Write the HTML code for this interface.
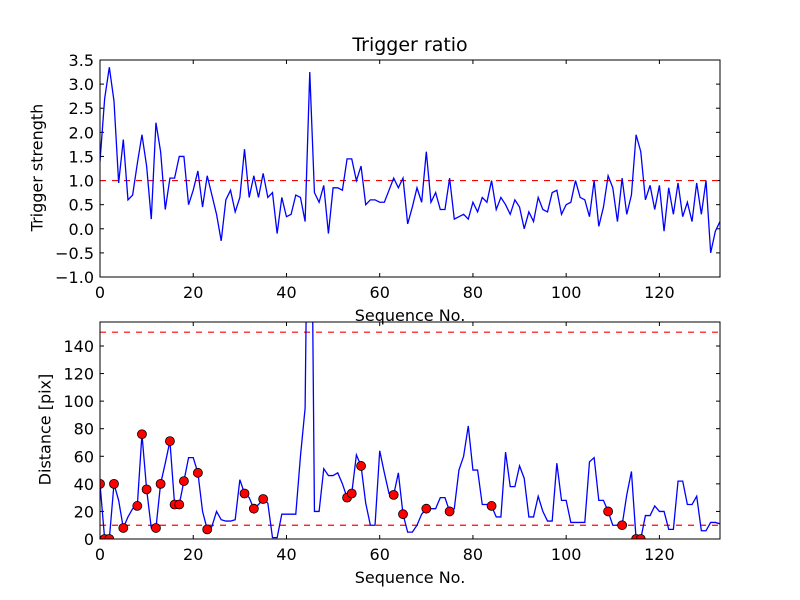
<!DOCTYPE html>
<html><head><meta charset="utf-8"><style>html,body{margin:0;background:#fff;width:800px;height:600px;overflow:hidden}svg text{font-family:"DejaVu Sans",sans-serif;fill:#000}</style></head>
<body>
<svg id="c" width="800" height="600" style="position:absolute;left:0;top:0" xmlns="http://www.w3.org/2000/svg"></svg>
<script>
const ratio=[1.4,2.7,3.35,2.65,0.95,1.85,0.6,0.7,1.35,1.95,1.3,0.2,2.2,1.6,0.4,1.05,1.05,1.5,1.5,0.5,0.8,1.2,0.45,1.1,0.7,0.3,-0.25,0.6,0.8,0.35,0.65,1.65,0.65,1.1,0.65,1.15,0.65,0.75,-0.1,0.65,0.25,0.3,0.7,0.65,0.15,3.25,0.75,0.55,0.9,-0.1,0.85,0.85,0.8,1.45,1.45,1.0,1.3,0.5,0.6,0.6,0.55,0.55,0.8,1.05,0.85,1.05,0.1,0.45,0.85,0.55,1.6,0.55,0.75,0.4,0.4,1.05,0.2,0.25,0.3,0.2,0.55,0.35,0.65,0.55,1.0,0.4,0.65,0.5,0.3,0.6,0.45,0.0,0.35,0.15,0.65,0.4,0.35,0.75,0.8,0.3,0.5,0.55,1.0,0.65,0.6,0.25,1.0,0.05,0.45,1.1,0.85,0.15,1.05,0.3,0.7,1.95,1.6,0.6,0.9,0.4,0.9,-0.05,0.85,0.3,0.95,0.25,0.55,0.15,0.95,0.3,1.0,-0.5,-0.05,0.15];
const dist=[40,0,0,40,28,8,16,22,24,76,36,8,8,40,55,71,25,25,42,59,59,48,20,7,9,20,14,13,13,14,43,33,30,22,25,29,26,1,1,18,18,18,18,60,95,400,20,20,51,46,46,48,40,30,33,61,53,26,10,10,64,48,33,32,48,18,5,5,10,18,22,22,22,30,30,20,22,50,60,82,50,50,25,25,24,16,16,63,38,38,53,44,16,16,31,20,13,13,55,28,28,12,12,12,12,56,59,28,28,20,10,10,10,32,49,0,0,17,17,24,20,20,7,7,42,42,25,25,31,6,6,12,12,11];
const markerIdx=[0,1,2,3,5,8,9,10,12,13,15,16,17,18,21,23,31,33,35,53,54,56,63,65,70,75,84,109,112,115,116];
const xTicks=[0,20,40,60,80,100,120];
const yTicksTop=[-1.0,-0.5,0.0,0.5,1.0,1.5,2.0,2.5,3.0,3.5];
const yTicksBot=[0,20,40,60,80,100,120,140];
const ratioThresh=[1.0];
const distThresh=[10,150];

const svg=document.getElementById('c');const NS='http://www.w3.org/2000/svg';
function mk(t,a,p){const e=document.createElementNS(NS,t);for(const k in a)e.setAttribute(k,a[k]);(p||svg).appendChild(e);return e;}
const L=100,R=720,xmax=133;
const sx=v=>L+(v/xmax)*(R-L);
function panel(top,bot,ymin,ymax,ticks,fmt,name){
  const sy=v=>bot-(v-ymin)/(ymax-ymin)*(bot-top);
  const g=mk('g',{});
  const clipId='clip'+name;const cp=mk('clipPath',{id:clipId},g);mk('rect',{x:L,y:top,width:R-L,height:bot-top},cp);
  xTicks.forEach(t=>{const x=sx(t);mk('line',{x1:x,x2:x,y1:bot,y2:bot-4,stroke:'#000'},g);mk('line',{x1:x,x2:x,y1:top,y2:top+4,stroke:'#000'},g);
    const tx=mk('text',{x:x,y:bot+21,'font-size':16,'text-anchor':'middle'},g);tx.textContent=t;
    });
  ticks.forEach(t=>{const y=sy(t);mk('line',{x1:L,x2:L+4,y1:y,y2:y,stroke:'#000'},g);mk('line',{x1:R,x2:R-4,y1:y,y2:y,stroke:'#000'},g);
    const tx=mk('text',{x:L-6,y:y+6,'font-size':16,'text-anchor':'end'},g);tx.textContent=fmt(t).replace('-','\u2212');
    });
  return {g,sy,clipId};
}
const P1=panel(60,277,-1,3.5,yTicksTop,v=>v.toFixed(1),'top-panel');
ratioThresh.forEach(v=>{const l=mk('line',{x1:L,x2:R,y1:P1.sy(v),y2:P1.sy(v),stroke:'#f00','stroke-width':1.2,'stroke-dasharray':'6,6'},P1.g);
  });
const l1=mk('polyline',{points:ratio.map((v,i)=>sx(i)+','+P1.sy(v)).join(' '),fill:'none',stroke:'#00f','stroke-width':1.3,'clip-path':'url(#'+P1.clipId+')'},P1.g);

mk('rect',{x:L,y:60,width:R-L,height:217,fill:'none',stroke:'#000','stroke-width':1},P1.g);
const P2=panel(322,539,0,157.4,yTicksBot,v=>String(v),'bottom-panel');
distThresh.forEach(v=>{const l=mk('line',{x1:L,x2:R,y1:P2.sy(v),y2:P2.sy(v),stroke:'#f00','stroke-width':1.2,'stroke-dasharray':'6,6'},P2.g);
  });
const l2=mk('polyline',{points:dist.map((v,i)=>sx(i)+','+P2.sy(v)).join(' '),fill:'none',stroke:'#00f','stroke-width':1.3,'clip-path':'url(#'+P2.clipId+')'},P2.g);

const mg=mk('g',{'clip-path':'url(#'+P2.clipId+')'},P2.g);
markerIdx.forEach(i=>{const c=mk('circle',{cx:sx(i),cy:P2.sy(dist[i]),r:4.5,fill:'#f00',stroke:'#000','stroke-width':0.8},mg);
  });
mk('rect',{x:L,y:322,width:R-L,height:217,fill:'none',stroke:'#000','stroke-width':1},P2.g);
</script>
<div style="position:absolute;left:0;top:0;width:800px;height:600px;pointer-events:none;font-family:'DejaVu Sans',sans-serif">
<div style="position:absolute;left:0;width:820px;top:34px;text-align:center;font-size:19px">Trigger ratio</div>
<div style="position:absolute;left:310px;width:200px;top:306px;text-align:center;font-size:16px">Sequence No.</div>
<div style="position:absolute;left:310px;width:200px;top:568px;text-align:center;font-size:16px">Sequence No.</div>
<div style="position:absolute;left:-63px;width:200px;top:158px;text-align:center;font-size:16px;transform:rotate(-90deg)">Trigger strength</div>
<div style="position:absolute;left:-55px;width:200px;top:420px;text-align:center;font-size:16px;transform:rotate(-90deg)">Distance [pix]</div>
</div>
</body></html>
